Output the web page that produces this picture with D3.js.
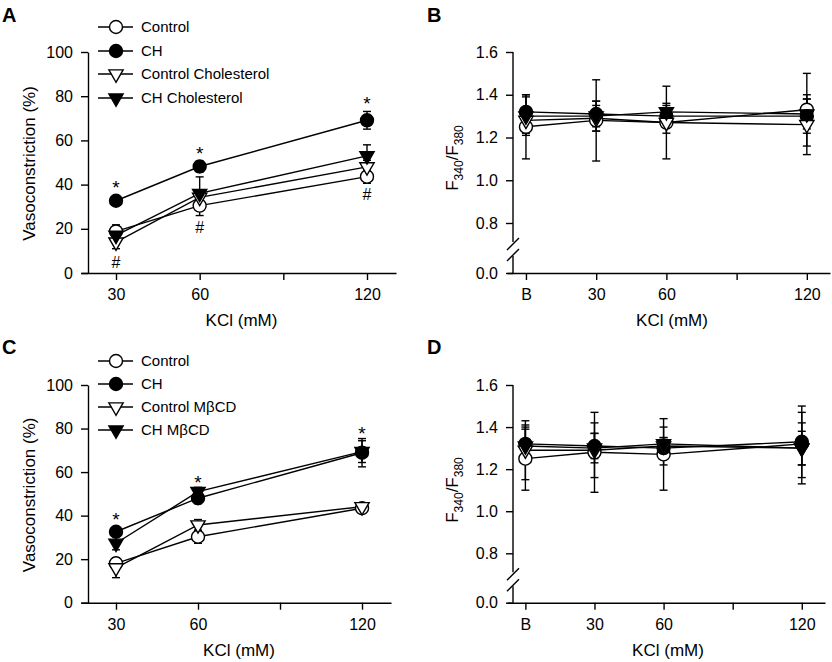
<!DOCTYPE html>
<html>
<head>
<meta charset="utf-8">
<script src="https://cdn.jsdelivr.net/npm/d3@7"></script>
<style>
  html, body { margin: 0; padding: 0; background: #fff; }
  svg { display: block; font-family: "Liberation Sans", Arial, Helvetica, sans-serif; }
</style>
</head>
<body>
<svg id="chart" width="832" height="662"></svg>
<script>
// ---------------- DATA ----------------
// Panels A & C: KCl concentrations (mM)
const kclConc = [30, 60, 120];
const kclTicks = [30, 60, 90, 120];
const kclTickLabels = ["30", "60", "", "120"];
const vasoTicks = [0, 20, 40, 60, 80, 100];

// Panel A: vasoconstriction (%)
const seriesNamesA = ["Control", "CH", "Control Cholesterol", "CH Cholesterol"];
const aControl = [18.8, 30.5, 43.6];
const aControlErr = [3, 4.5, 3];
const aCH = [32.7, 48.2, 69.1];
const aCHErr = [2, 2.5, 4];
const aCtrlChol = [14, 34.2, 48];
const aCtrlCholErr = [3, 3, 3];
const aCHChol = [17, 36, 53];
const aCHCholErr = [3, 7.5, 5];
const aStars = [40.7, 56.1, 78.7];   // "*" positions (value units)
const aHashes = [4.5, 20.4, 35.3];   // "#" positions (value units)

// Panel C: vasoconstriction (%)
const seriesNamesC = ["Control", "CH", "Control M\u03B2CD", "CH M\u03B2CD"];
const cControl = [18.1, 30.3, 43.4];
const cControlErr = [2.5, 3, 2];
const cCH = [32.6, 48, 68.9];
const cCHErr = [2, 2.5, 6.5];
const cCtrlMBCD = [16, 35.7, 44.1];
const cCtrlMBCDErr = [4.5, 2.5, 1.5];
const cCHMBCD = [27.3, 51, 69.4];
const cCHMBCDErr = [3, 2, 5];
const cStars = [40.3, 57.4, 79.8];

// Panels B & D: F340/F380 ratio
const ratioCats = ["B", "30", "60", "120"];
const ratioCatIndex = [0, 1, 2, 4];
const ratioTickIndex = [0, 1, 2, 3, 4];
const ratioTickLabels = ["B", "30", "60", "", "120"];
const ratioTicks = [0.0, 0.8, 1.0, 1.2, 1.4, 1.6];

const bControl = [1.25, 1.28, 1.27, 1.33];
const bControlErr = [0.15, 0.19, 0.17, 0.17];
const bCH = [1.32, 1.31, 1.30, 1.30];
const bCHErr = [0.08, 0.06, 0.05, 0.08];
const bCtrlChol = [1.28, 1.29, 1.27, 1.26];
const bCtrlCholErr = [0.06, 0.06, 0.05, 0.14];
const bCHChol = [1.30, 1.30, 1.32, 1.31];
const bCHCholErr = [0.09, 0.07, 0.04, 0.07];

const dControl = [1.25, 1.28, 1.27, 1.32];
const dControlErr = [0.15, 0.19, 0.17, 0.10];
const dCH = [1.32, 1.31, 1.30, 1.33];
const dCHErr = [0.09, 0.06, 0.05, 0.17];
const dCtrlMBCD = [1.29, 1.29, 1.31, 1.30];
const dCtrlMBCDErr = [0.14, 0.13, 0.09, 0.17];
const dCHMBCD = [1.31, 1.30, 1.32, 1.30];
const dCHMBCDErr = [0.08, 0.07, 0.03, 0.08];

// ---------------- DRAWING ----------------
const svg = d3.select("#chart");
const shapes = [
  {sym: "circle", fill: "#fff"},
  {sym: "circle", fill: "#000"},
  {sym: "tri", fill: "#fff"},
  {sym: "tri", fill: "#000"}
];
const circlePath = d3.symbol().type(d3.symbolCircle).size(Math.PI * 6.5 * 6.5)();
const triPath = d3.symbol().type(d3.symbolTriangle).size(88)();

function marker(g, shape, x, y) {
  g.append("path")
    .attr("d", shape.sym === "circle" ? circlePath : triPath)
    .attr("transform", `translate(${x},${y})` + (shape.sym === "tri" ? " rotate(180)" : ""))
    .attr("fill", shape.fill)
    .attr("stroke", "#000")
    .attr("stroke-width", 1.4);
}

function drawSeries(g, x, y, xs, seriesList) {
  const line = d3.line().x((d, i) => x(xs[i])).y(d => y(d));
  seriesList.forEach(s => {
    g.append("path").attr("d", line(s.vals))
      .attr("fill", "none").attr("stroke", "#000").attr("stroke-width", 1.4);
  });
  seriesList.forEach(s => {
    s.vals.forEach((v, i) => {
      const cx = x(xs[i]), y1 = y(v + s.err[i]), y2 = y(v - s.err[i]);
      g.append("line").attr("x1", cx).attr("x2", cx).attr("y1", y1).attr("y2", y2)
        .attr("stroke", "#000").attr("stroke-width", 1.4);
      [y1, y2].forEach(yy => g.append("line").attr("x1", cx - 4).attr("x2", cx + 4)
        .attr("y1", yy).attr("y2", yy).attr("stroke", "#000").attr("stroke-width", 1.4));
    });
  });
  seriesList.forEach((s, k) => {
    s.vals.forEach((v, i) => marker(g, shapes[k], x(xs[i]), y(v)));
  });
}

function styleAxis(sel) {
  sel.selectAll("path.domain").attr("stroke", "#000").attr("stroke-width", 1.4);
  sel.selectAll(".tick line").attr("stroke", "#000").attr("stroke-width", 1.4);
  sel.selectAll(".tick text").attr("fill", "#000").attr("font-size", 16)
    .attr("font-family", "Liberation Sans, Arial, sans-serif");
}

function legend(g, names, x0, ys) {
  names.forEach((n, k) => {
    g.append("line").attr("x1", x0).attr("x2", x0 + 35).attr("y1", ys[k]).attr("y2", ys[k])
      .attr("stroke", "#000").attr("stroke-width", 1.4);
    marker(g, shapes[k], x0 + 18, ys[k]);
    g.append("text").attr("x", x0 + 43).attr("y", ys[k]).attr("dy", "0.35em")
      .attr("font-size", 15).attr("fill", "#000").text(n);
  });
}

function panelLabel(txt, x, y) {
  svg.append("text").attr("x", x).attr("y", y).attr("font-size", 20)
    .attr("font-weight", "bold").attr("fill", "#000").text(txt);
}

// ---- Vasoconstriction panels (A, C) ----
function vasoPanel(o) {
  const g = svg.append("g");
  const x = d3.scaleLinear().domain(o.xDomain).range([o.xLeft, o.xRight]);
  const y = d3.scaleLinear().domain([0, 100]).range([o.yBottom, o.yTop]);
  const xa = g.append("g").attr("transform", `translate(0,${o.yBottom})`)
    .call(d3.axisBottom(x).tickValues(kclTicks).tickFormat((d, i) => kclTickLabels[i])
      .tickSize(7).tickPadding(9).tickSizeOuter(0));
  styleAxis(xa);
  const ya = g.append("g").attr("transform", `translate(${o.yAxisX},0)`)
    .call(d3.axisLeft(y).tickValues(vasoTicks).tickSize(7).tickPadding(8).tickSizeOuter(0));
  styleAxis(ya);
  g.append("text").attr("transform", `translate(${o.yAxisX - 53},${(o.yTop + o.yBottom) / 2 + 1}) rotate(-90)`)
    .attr("text-anchor", "middle").attr("font-size", 17).attr("fill", "#000").text("Vasoconstriction (%)");
  g.append("text").attr("x", (o.xLeft + o.xRight) / 2 + 3).attr("y", o.yBottom + 53)
    .attr("text-anchor", "middle").attr("font-size", 17).attr("fill", "#000").text("KCl (mM)");
  drawSeries(g, x, y, kclConc, o.series);
  o.stars.forEach((v, i) => g.append("text").attr("x", x(kclConc[i])).attr("y", y(v)).attr("dy", "0.6em")
    .attr("text-anchor", "middle").attr("font-size", 19).attr("fill", "#000").text("*"));
  (o.hashes || []).forEach((v, i) => g.append("text").attr("x", x(kclConc[i])).attr("y", y(v)).attr("dy", "0.34em")
    .attr("text-anchor", "middle").attr("font-size", 16).attr("fill", "#000").text("#"));
  legend(g, o.names, 98, o.legendY);
}

vasoPanel({
  xDomain: [17.45, 130.4], xLeft: 81, xRight: 396, yTop: 52, yBottom: 273, yAxisX: 88,
  series: [
    {vals: aControl, err: aControlErr},
    {vals: aCH, err: aCHErr},
    {vals: aCtrlChol, err: aCtrlCholErr},
    {vals: aCHChol, err: aCHCholErr}
  ],
  stars: aStars, hashes: aHashes, names: seriesNamesA, legendY: [27, 51, 74, 98]
});

vasoPanel({
  xDomain: [17.2, 130.6], xLeft: 81, xRight: 391, yTop: 385, yBottom: 602.7, yAxisX: 88,
  series: [
    {vals: cControl, err: cControlErr},
    {vals: cCH, err: cCHErr},
    {vals: cCtrlMBCD, err: cCtrlMBCDErr},
    {vals: cCHMBCD, err: cCHMBCDErr}
  ],
  stars: cStars, names: seriesNamesC, legendY: [361, 384, 407, 430]
});

// ---- Ratio panels (B, D) ----
function ratioPanel(o) {
  const g = svg.append("g");
  const x = d3.scaleLinear().domain(o.xDomain).range([o.xLeft, o.xRight]);
  const y = d3.scaleLinear().domain([0, 0.8, 1.6]).range([o.yBottom, o.y08, o.yTop]);
  const xa = g.append("g").attr("transform", `translate(0,${o.yBottom})`)
    .call(d3.axisBottom(x).tickValues(ratioTickIndex).tickFormat((d, i) => ratioTickLabels[i])
      .tickSize(7).tickPadding(9).tickSizeOuter(0));
  styleAxis(xa);
  const ya = g.append("g").attr("transform", `translate(${o.yAxisX},0)`)
    .call(d3.axisLeft(y).tickValues(ratioTicks).tickFormat(d3.format(".1f")).tickSize(7).tickPadding(8).tickSizeOuter(0));
  ya.select("path.domain").remove();
  styleAxis(ya);
  const yb1 = o.y08 + 19, yb2 = o.y08 + 33;
  g.append("line").attr("x1", o.yAxisX).attr("x2", o.yAxisX).attr("y1", o.yTop).attr("y2", yb1)
    .attr("stroke", "#000").attr("stroke-width", 1.4);
  g.append("line").attr("x1", o.yAxisX).attr("x2", o.yAxisX).attr("y1", yb2).attr("y2", o.yBottom)
    .attr("stroke", "#000").attr("stroke-width", 1.4);
  [yb1 + 2, yb2 - 1].forEach(yy => g.append("line")
    .attr("x1", o.yAxisX - 6).attr("y1", yy + 6).attr("x2", o.yAxisX + 6).attr("y2", yy - 6)
    .attr("stroke", "#000").attr("stroke-width", 1.4));
  const t = g.append("text").attr("transform", `translate(${o.yAxisX - 55},${o.titleY}) rotate(-90)`)
    .attr("text-anchor", "middle").attr("font-size", 17).attr("fill", "#000");
  t.append("tspan").text("F");
  t.append("tspan").attr("font-size", 12).attr("dy", 5).text("340");
  t.append("tspan").attr("dy", -5).text("/F");
  t.append("tspan").attr("font-size", 12).attr("dy", 5).text("380");
  g.append("text").attr("x", o.xLabelX).attr("y", o.yBottom + 53)
    .attr("text-anchor", "middle").attr("font-size", 17).attr("fill", "#000").text("KCl (mM)");
  drawSeries(g, x, y, ratioCatIndex, o.series);
}

ratioPanel({
  xDomain: [-0.27, 4.33], xLeft: 507, xRight: 830, yTop: 52, y08: 223, yBottom: 273, yAxisX: 513,
  titleY: 158, xLabelX: 672,
  series: [
    {vals: bControl, err: bControlErr},
    {vals: bCH, err: bCHErr},
    {vals: bCtrlChol, err: bCtrlCholErr},
    {vals: bCHChol, err: bCHCholErr}
  ]
});

ratioPanel({
  xDomain: [-0.266, 4.336], xLeft: 507, xRight: 825, yTop: 385, y08: 553.3, yBottom: 602.7, yAxisX: 513,
  titleY: 490, xLabelX: 668,
  series: [
    {vals: dControl, err: dControlErr},
    {vals: dCH, err: dCHErr},
    {vals: dCtrlMBCD, err: dCtrlMBCDErr},
    {vals: dCHMBCD, err: dCHMBCDErr}
  ]
});

panelLabel("A", 2, 22);
panelLabel("B", 427, 22);
panelLabel("C", 2, 354);
panelLabel("D", 427, 354);
</script>
</body>
</html>
